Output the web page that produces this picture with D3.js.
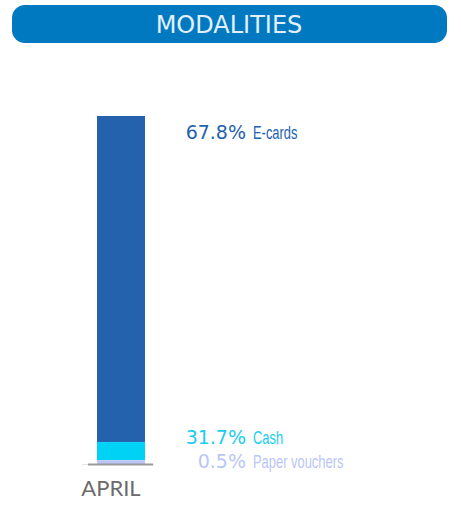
<!DOCTYPE html>
<html>
<head>
<meta charset="utf-8">
<script src="https://cdn.jsdelivr.net/npm/d3@7"></script>
<style>
  body { margin: 0; background: #fff; }
  .pct { font-family: "DejaVu Sans", sans-serif; font-size: 19px; }
  .lbl { font-family: "Liberation Sans", sans-serif; font-size: 19px; }
</style>
</head>
<body>
<div class="container"></div>
<script>
// data
const categories = ["E-cards", "Cash", "Paper vouchers"];
const shares = [67.8, 31.7, 0.5];          // printed labels
const barHeights = [93.7, 5.2, 1.1];       // how tall each segment is drawn
const colors = ["#2462ad", "#00d2f6", "#b9c5f5"];
const textColors = ["#2462ad", "#18cdf0", "#b9c6f7"];
const month = "APRIL";

const width = 461, height = 506;

const svg = d3.select(".container")
  .append("svg")
    .attr("width", width)
    .attr("height", height);

// title banner
svg.append("rect")
  .attr("x", 12).attr("y", 5)
  .attr("width", 435).attr("height", 38)
  .attr("rx", 13)
  .attr("fill", "#0079c1");

svg.append("text")
  .attr("x", 229).attr("y", 33)
  .attr("text-anchor", "middle")
  .attr("fill", "#e3f0fb")
  .style("font-family", "DejaVu Sans, Verdana, sans-serif")
  .style("font-size", "24px")
  .text("MODALITIES");

// stacked bar, last category sits on the base
const x = d3.scaleBand().domain([month]).range([97, 145]);
const y = d3.scaleLinear().domain([0, d3.sum(barHeights)]).range([464, 116]);

let acc = 0;
const segs = [];
for (let i = categories.length - 1; i >= 0; i--) {
  segs[i] = {name: categories[i], share: shares[i], y0: acc, y1: acc + barHeights[i], color: colors[i], tc: textColors[i]};
  acc += barHeights[i];
}

svg.selectAll(".seg")
  .data(segs)
  .enter()
  .append("rect")
    .classed("seg", true)
    .attr("x", x(month))
    .attr("width", x.bandwidth())
    .attr("y", d => y(d.y1))
    .attr("height", d => y(d.y0) - y(d.y1))
    .attr("fill", d => d.color);

// baseline
svg.append("line")
  .attr("x1", 82).attr("x2", 154)
  .attr("y1", 464.5).attr("y2", 464.5)
  .attr("stroke", "#e4e4e4").attr("stroke-width", 1);
svg.append("line")
  .attr("x1", 88).attr("x2", 153)
  .attr("y1", 464.5).attr("y2", 464.5)
  .attr("stroke", "#999").attr("stroke-width", 2);

svg.append("text")
  .attr("x", 111).attr("y", 496)
  .attr("text-anchor", "middle")
  .attr("fill", "#6b6b6b")
  .style("font-family", "Lato, DejaVu Sans, sans-serif")
  .style("font-size", "22px")
  .text(month);

// labels: top one near bar top, the rest stacked up from the base
const labelY = segs.map((d, i) => {
  if (i === 0) return y(d.y1) + 23;
  return y(0) + 4 - (segs.length - 1 - i) * 24;
});

const labels = svg.selectAll(".label")
  .data(segs)
  .enter()
  .append("g")
    .classed("label", true)
    .attr("transform", (d, i) => "translate(0," + labelY[i] + ")");

labels.append("text")
  .classed("pct", true)
  .attr("x", 246)
  .attr("text-anchor", "end")
  .attr("fill", d => d.tc)
  .text(d => d.share.toFixed(1) + "%");

// narrow the names to look condensed
labels.append("text")
  .classed("lbl", true)
  .attr("transform", "translate(253,0) scale(0.68,1)")
  .attr("fill", d => d.tc)
  .text(d => d.name);
</script>
</body>
</html>
